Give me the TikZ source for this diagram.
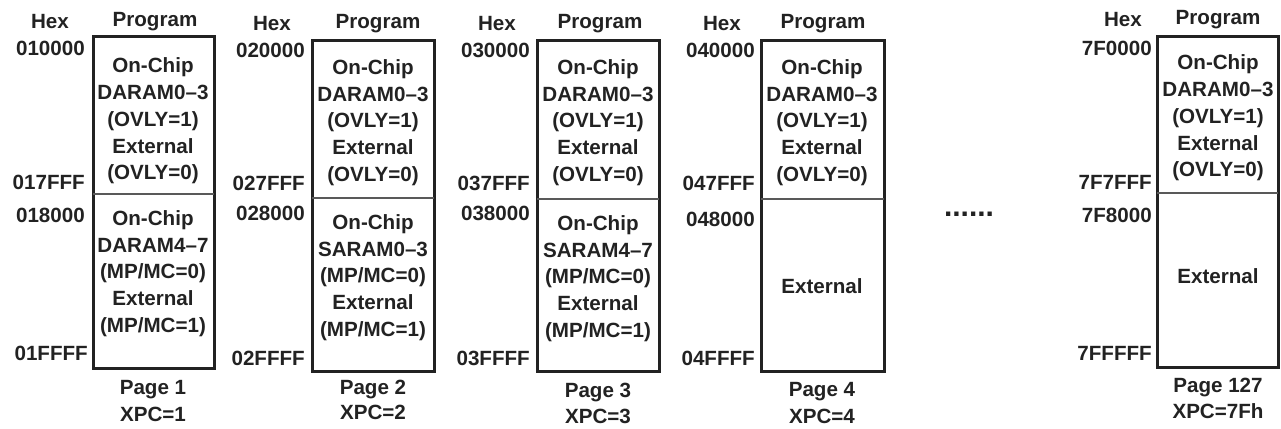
\documentclass[tikz,border=0pt]{standalone}
\usepackage{fontspec}
\setmainfont{Liberation Sans}
\definecolor{ink}{HTML}{222222}
\tikzset{
  lbl/.style={font=\bfseries\fontsize{20.6}{26.7}\selectfont, text=ink, inner sep=0pt, align=center},
  hexlbl/.style={lbl, anchor=east},
  membox/.style={draw=ink, line width=3pt},
  divline/.style={draw=ink!75, line width=1.1pt},
}
\begin{document}
\begin{tikzpicture}[x=1pt,y=-1pt]
\useasboundingbox (0,0) rectangle (1281,428);

% ---------- Page 1 ----------
\node[lbl] (h1) at (50,22) {Hex};
\node[lbl] (p1) at (155,22) {Program};
\coordinate (b1tl) at (93,37); \coordinate (b1br) at (214,368);
\draw[membox] (b1tl) rectangle (b1br);
\coordinate (d1l) at (93,194); \coordinate (d1r) at (214,194);
\draw[divline] (d1l) -- (d1r);
\node[hexlbl] (a1a) at (85,48) {010000};
\node[hexlbl] (a1b) at (85,182) {017FFF};
\node[hexlbl] (a1c) at (85,215) {018000};
\node[hexlbl] (a1d) at (88,353) {01FFFF};
\node[lbl] (t1a) at (153,121) {On-Chip\\DARAM0--3\\(OVLY=1)\\External\\(OVLY=0)};
\node[lbl] (t1b) at (153,273.5) {On-Chip\\DARAM4--7\\(MP/MC=0)\\External\\(MP/MC=1)};
\node[lbl] (pg1) at (153,390) {Page 1};
\node[lbl] (x1) at (153,414) {XPC=1};

% ---------- Page 2 ----------
\node[lbl] (h2) at (272,24) {Hex};
\node[lbl] (p2) at (378,24) {Program};
\coordinate (b2tl) at (312,41); \coordinate (b2br) at (434,371);
\draw[membox] (b2tl) rectangle (b2br);
\coordinate (d2l) at (312,198); \coordinate (d2r) at (434,198);
\draw[divline] (d2l) -- (d2r);
\node[hexlbl] (a2a) at (305,50) {020000};
\node[hexlbl] (a2b) at (305,183) {027FFF};
\node[hexlbl] (a2c) at (305,213) {028000};
\node[hexlbl] (a2d) at (305,358) {02FFFF};
\node[lbl] (t2a) at (373,122.5) {On-Chip\\DARAM0--3\\(OVLY=1)\\External\\(OVLY=0)};
\node[lbl] (t2b) at (373,277.5) {On-Chip\\SARAM0--3\\(MP/MC=0)\\External\\(MP/MC=1)};
\node[lbl] (pg2) at (373,389) {Page 2};
\node[lbl] (x2) at (373,412) {XPC=2};

% ---------- Page 3 ----------
\node[lbl] (h3) at (497,24) {Hex};
\node[lbl] (p3) at (600,24) {Program};
\coordinate (b3tl) at (537,41); \coordinate (b3br) at (659,371);
\draw[membox] (b3tl) rectangle (b3br);
\coordinate (d3l) at (537,199); \coordinate (d3r) at (659,199);
\draw[divline] (d3l) -- (d3r);
\node[hexlbl] (a3a) at (530,50) {030000};
\node[hexlbl] (a3b) at (530,183) {037FFF};
\node[hexlbl] (a3c) at (530,213) {038000};
\node[hexlbl] (a3d) at (530,358) {03FFFF};
\node[lbl] (t3a) at (598,122.5) {On-Chip\\DARAM0--3\\(OVLY=1)\\External\\(OVLY=0)};
\node[lbl] (t3b) at (598,278.5) {On-Chip\\SARAM4--7\\(MP/MC=0)\\External\\(MP/MC=1)};
\node[lbl] (pg3) at (598,392) {Page 3};
\node[lbl] (x3) at (598,416) {XPC=3};

% ---------- Page 4 ----------
\node[lbl] (h4) at (722,24) {Hex};
\node[lbl] (p4) at (823,24) {Program};
\coordinate (b4tl) at (761,41); \coordinate (b4br) at (884,371);
\draw[membox] (b4tl) rectangle (b4br);
\coordinate (d4l) at (761,199); \coordinate (d4r) at (884,199);
\draw[divline] (d4l) -- (d4r);
\node[hexlbl] (a4a) at (755,50) {040000};
\node[hexlbl] (a4b) at (755,183) {047FFF};
\node[hexlbl] (a4c) at (755,219) {048000};
\node[hexlbl] (a4d) at (755,358) {04FFFF};
\node[lbl] (t4a) at (822,122.5) {On-Chip\\DARAM0--3\\(OVLY=1)\\External\\(OVLY=0)};
\node[lbl] (t4b) at (822,286) {External};
\node[lbl] (pg4) at (822,392) {Page 4};
\node[lbl] (x4) at (822,416) {XPC=4};

% ---------- dots ----------
\node[font=\bfseries\fontsize{30}{30}\selectfont, text=ink, inner sep=0pt, anchor=base] (dots) at (969,216) {......};

% ---------- Page 127 ----------
\node[lbl] (h5) at (1123,20) {Hex};
\node[lbl] (p5) at (1218,20) {Program};
\coordinate (b5tl) at (1157,37); \coordinate (b5br) at (1278,367);
\draw[membox] (b5tl) rectangle (b5br);
\coordinate (d5l) at (1157,193); \coordinate (d5r) at (1278,193);
\draw[divline] (d5l) -- (d5r);
\node[hexlbl] (a5a) at (1152,48) {7F0000};
\node[hexlbl] (a5b) at (1152,182) {7F7FFF};
\node[hexlbl] (a5c) at (1152,215) {7F8000};
\node[hexlbl] (a5d) at (1152,353) {7FFFFF};
\node[lbl] (t5a) at (1218,118) {On-Chip\\DARAM0--3\\(OVLY=1)\\External\\(OVLY=0)};
\node[lbl] (t5b) at (1218,276) {External};
\node[lbl] (pg5) at (1218,387) {Page 127};
\node[lbl] (x5) at (1218,411) {XPC=7Fh};
\end{tikzpicture}
\end{document}
